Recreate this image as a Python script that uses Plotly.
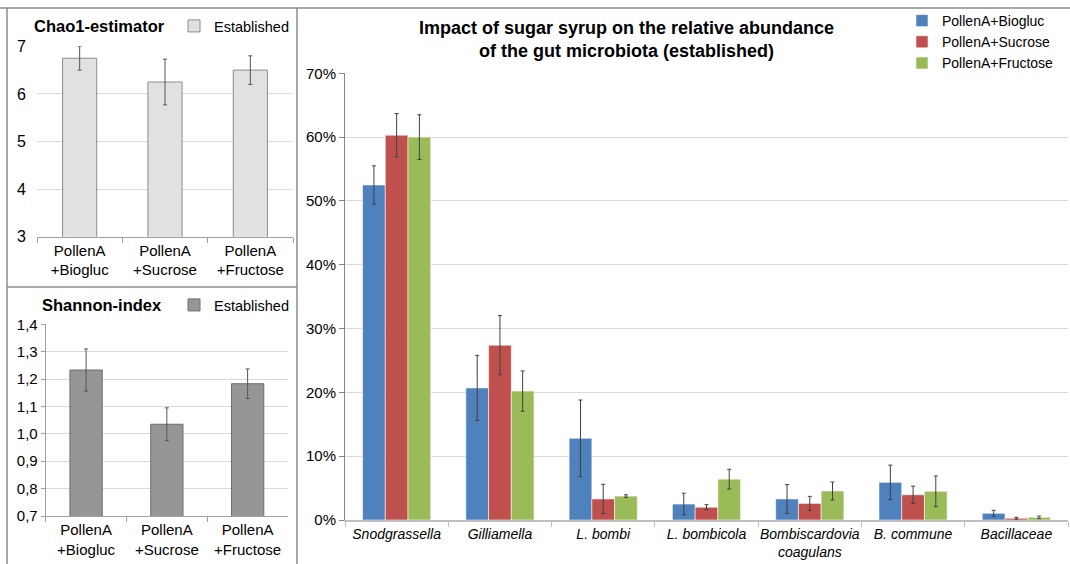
import plotly.graph_objects as go

W, H = 1070, 564

# ---------------- data ----------------
groups_short = ["PollenA<br>+Biogluc", "PollenA<br>+Sucrose", "PollenA<br>+Fructose"]

chao1_vals = [6.75, 6.25, 6.50]
chao1_err = [0.25, 0.48, 0.30]
chao1_ticks = [3, 4, 5, 6, 7]

shannon_vals = [1.233, 1.035, 1.183]
shannon_err = [0.077, 0.060, 0.054]
shannon_tickvals = [0.7, 0.8, 0.9, 1.0, 1.1, 1.2, 1.3, 1.4]
shannon_ticktext = ["0,7", "0,8", "0,9", "1,0", "1,1", "1,2", "1,3", "1,4"]

taxa = ["Snodgrassella", "Gilliamella", "L. bombi", "L. bombicola",
        "Bombiscardovia<br>coagulans", "B. commune", "Bacillaceae"]
series_names = ["PollenA+Biogluc", "PollenA+Sucrose", "PollenA+Fructose"]
biogluc = [52.5, 20.7, 12.8, 2.5, 3.3, 5.9, 1.05]
biogluc_err = [3.0, 5.1, 6.0, 1.7, 2.25, 2.7, 0.47]
sucrose = [60.3, 27.4, 3.3, 2.0, 2.6, 3.95, 0.27]
sucrose_err = [3.4, 4.65, 2.3, 0.4, 1.1, 1.35, 0.15]
fructose = [60.0, 20.2, 3.75, 6.4, 4.55, 4.5, 0.42]
fructose_err = [3.5, 3.15, 0.2, 1.55, 1.4, 2.4, 0.2]
pct_ticks = [0, 10, 20, 30, 40, 50, 60, 70]
pct_ticktext = ["0%", "10%", "20%", "30%", "40%", "50%", "60%", "70%"]

colors = ["#4F81BD", "#C0504D", "#9BBB59"]

FONT = "Liberation Sans, Arial, sans-serif"


def px_x(p):
    return p / W


def px_y(p):
    return 1 - p / H


fig = go.Figure()

# ---- Chao1 ----
fig.add_trace(go.Bar(
    x=groups_short, y=chao1_vals, width=0.4, name="Established",
    marker=dict(color="#E1E1E1", line=dict(color="#8C8C8C", width=1)),
    error_y=dict(type="data", array=chao1_err, color="#555555", thickness=1, width=2),
    xaxis="x", yaxis="y", legend="legend2", showlegend=True,
))

# ---- Shannon ----
fig.add_trace(go.Bar(
    x=groups_short, y=shannon_vals, width=0.4, name="Established",
    marker=dict(color="#969696", line=dict(color="#6E6E6E", width=1)),
    error_y=dict(type="data", array=shannon_err, color="#555555", thickness=1, width=2),
    xaxis="x2", yaxis="y2", legend="legend3", showlegend=True,
))

# ---- Main ----
for name, vals, errs, col in zip(series_names, [biogluc, sucrose, fructose],
                                 [biogluc_err, sucrose_err, fructose_err], colors):
    fig.add_trace(go.Bar(
        x=taxa, y=vals, name=name,
        marker=dict(color=col, line=dict(color="rgba(255,255,255,0.55)", width=1)),
        error_y=dict(type="data", array=errs, color="#404040", thickness=1, width=2),
        xaxis="x3", yaxis="y3", legend="legend",
    ))

axis_common = dict(showgrid=False, zeroline=False, automargin=False, tickangle=0)

fig.update_layout(
    width=W, height=H,
    margin=dict(l=0, r=0, t=0, b=0, autoexpand=False),
    paper_bgcolor="white", plot_bgcolor="white",
    font=dict(family=FONT, color="#000000"),
    barmode="group", bargap=0.34, bargroupgap=0,
    xaxis=dict(domain=[px_x(37), px_x(293)], anchor="y", tickson="boundaries",
               ticks="outside", ticklen=5, tickcolor="#A0A0A0", showline=True,
               linecolor="#A0A0A0", linewidth=1, tickfont=dict(family=FONT, size=15),
               **axis_common),
    yaxis=dict(domain=[px_y(236.7), px_y(46.3)], anchor="x", range=[3, 7],
               tickvals=chao1_ticks, showgrid=True, gridcolor="#D9D9D9",
               showline=False, ticks="", tickfont=dict(family=FONT, size=16),
               zeroline=False, ticklabelstandoff=10, automargin=False),
    xaxis2=dict(domain=[px_x(45.7), px_x(288)], anchor="y2", tickson="boundaries",
                ticks="outside", ticklen=5, tickcolor="#A0A0A0", showline=True,
                linecolor="#A0A0A0", linewidth=1, tickfont=dict(family=FONT, size=15),
                **axis_common),
    yaxis2=dict(domain=[px_y(516), px_y(324.3)], anchor="x2", range=[0.7, 1.4],
                tickvals=shannon_tickvals, ticktext=shannon_ticktext,
                showgrid=True, gridcolor="#D9D9D9", showline=True, linecolor="#A0A0A0",
                ticks="outside", ticklen=4, tickcolor="#A0A0A0",
                tickfont=dict(family=FONT, size=15), zeroline=False, automargin=False),
    xaxis3=dict(domain=[px_x(345), px_x(1068)], anchor="y3", tickson="boundaries",
                ticks="outside", ticklen=5, tickcolor="#BFBFBF", showline=True,
                linecolor="#BFBFBF", linewidth=1.5,
                tickfont=dict(family=FONT, size=14, style="italic"), **axis_common),
    yaxis3=dict(domain=[px_y(520), px_y(73.3)], anchor="x3", range=[0, 70],
                tickvals=pct_ticks, ticktext=pct_ticktext, showgrid=True, gridcolor="#D9D9D9",
                gridwidth=1.2, showline=True, linecolor="#868686", ticks="outside",
                ticklen=5, tickcolor="#868686", tickfont=dict(family=FONT, size=15),
                zeroline=False, automargin=False),
    legend=dict(x=px_x(902), y=px_y(5), xanchor="left", yanchor="top",
                font=dict(family=FONT, size=14), bgcolor="rgba(0,0,0,0)",
                tracegroupgap=0, itemwidth=30),
    legend2=dict(x=px_x(174), y=px_y(26), xanchor="left", yanchor="middle",
                 font=dict(family=FONT, size=14.5), bgcolor="rgba(0,0,0,0)", itemwidth=30),
    legend3=dict(x=px_x(174), y=px_y(305), xanchor="left", yanchor="middle",
                 font=dict(family=FONT, size=14.5), bgcolor="rgba(0,0,0,0)", itemwidth=30),
    showlegend=True,
)

# titles
fig.add_annotation(text="<b>Chao1-estimator</b>", x=px_x(32), y=px_y(26), xref="paper",
                   yref="paper", xanchor="left", yanchor="middle", showarrow=False,
                   font=dict(family=FONT, size=16.5))
fig.add_annotation(text="<b>Shannon-index</b>", x=px_x(40), y=px_y(305), xref="paper",
                   yref="paper", xanchor="left", yanchor="middle", showarrow=False,
                   font=dict(family=FONT, size=16.5))
fig.add_annotation(text="<b>Impact of sugar syrup on the relative abundance<br>of the gut microbiota (established)</b>",
                   x=px_x(626), y=px_y(40), xref="paper", yref="paper",
                   xanchor="center", yanchor="middle", showarrow=False,
                   font=dict(family=FONT, size=18))

# panel frames
frame = dict(color="#8C8C8C", width=1.5)
fig.add_shape(type="line", xref="paper", yref="paper", x0=0, x1=1, y0=px_y(8), y1=px_y(8), line=frame)
fig.add_shape(type="line", xref="paper", yref="paper", x0=px_x(7), x1=px_x(7), y0=0, y1=px_y(8), line=frame)
fig.add_shape(type="line", xref="paper", yref="paper", x0=px_x(297), x1=px_x(297), y0=0, y1=px_y(8), line=frame)
fig.add_shape(type="line", xref="paper", yref="paper", x0=px_x(7), x1=px_x(297), y0=px_y(287), y1=px_y(287), line=frame)

fig.write_html("out.html")
